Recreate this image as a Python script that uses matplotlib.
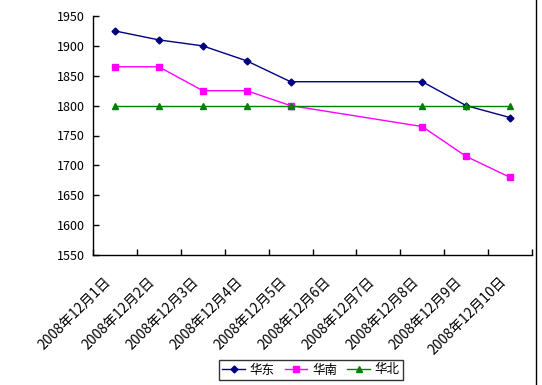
import matplotlib
matplotlib.use("Agg")
import matplotlib.pyplot as plt
from matplotlib.lines import Line2D
import matplotlib.transforms as mtransforms

plt.rcParams['font.family'] = ['Noto Sans CJK SC', 'DejaVu Sans']

labels = ["2008年12月1日", "2008年12月2日", "2008年12月3日", "2008年12月4日",
          "2008年12月5日", "2008年12月6日", "2008年12月7日", "2008年12月8日",
          "2008年12月9日", "2008年12月10日"]
# days with data (no data for the weekend 6th/7th)
days = [1, 2, 3, 4, 5, 8, 9, 10]
huadong = [1925, 1910, 1900, 1875, 1840, 1840, 1800, 1780]
huanan = [1865, 1865, 1825, 1825, 1800, 1765, 1715, 1680]
huabei = [1800, 1800, 1800, 1800, 1800, 1800, 1800, 1800]

fig = plt.figure(figsize=(5.42, 3.85), dpi=100)
ax = fig.add_axes([93/542, 1-255/385, (532-93)/542, (255-16)/385])

ax.plot(days, huadong, color='#000080', marker='D', markersize=3.5, lw=1, label="华东")
ax.plot(days, huanan, color='#FF00FF', marker='s', markersize=4.5, lw=1, label="华南")
ax.plot(days, huabei, color='#008000', marker='^', markersize=4.5, lw=1, label="华北")

ax.set_xlim(0.5, 10.5)
ax.set_ylim(1550, 1950)
ax.set_yticks(range(1550, 1951, 50))
ax.set_xticks([i + 0.5 for i in range(0, 11)], minor=True)
ax.set_xticks(range(1, 11))
ax.set_xticklabels(labels, rotation=45, ha='right', rotation_mode='anchor', fontsize=10)
ax.tick_params(axis='x', which='major', length=0, pad=14)
ax.tick_params(axis='x', which='minor', direction='in', length=4, width=1)
ax.tick_params(axis='y', direction='in', length=4, width=1, labelsize=9, pad=6)
offset = mtransforms.ScaledTranslation(-11/100, 0, fig.dpi_scale_trans)
for t in ax.get_xticklabels():
    t.set_transform(t.get_transform() + offset)

for s in ['top', 'right']:
    ax.spines[s].set_visible(False)
for s in ['left', 'bottom']:
    ax.spines[s].set_color('black')
    ax.spines[s].set_linewidth(1)

leg = ax.legend(loc='center', bbox_to_anchor=(311/542, 1-370/385),
                bbox_transform=fig.transFigure, ncol=3, fontsize=9, frameon=True,
                fancybox=False, edgecolor='black', handlelength=1.8, columnspacing=0.8,
                handletextpad=0.4, borderpad=0.25)
leg.get_frame().set_linewidth(1)

fig.add_artist(Line2D([536/542, 536/542], [0, 1], color='black', lw=1,
                      transform=fig.transFigure))

fig.savefig("out.png", dpi=100)
